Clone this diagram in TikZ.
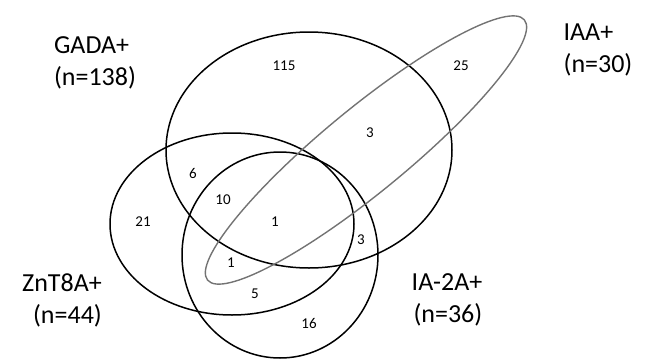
\documentclass[tikz,border=0pt]{standalone}
\usepackage{fontspec}
\setmainfont{Carlito}
\tikzset{
  ring/.style={draw=black, line width=1.5pt},
  iaaring/.style={draw=black!55, line width=1.4pt},
  setlabel/.style={font=\fontsize{26}{32}\selectfont, align=center},
  count/.style={font=\fontsize{15}{18}\selectfont}
}
\begin{document}
\begin{tikzpicture}[x=1pt,y=-1pt]
                \useasboundingbox (0,0) rectangle (649,362);
                \coordinate (gada) at (309,150);
                \coordinate (znt) at (232,224);
                \coordinate (ia2) at (280,255);
                \coordinate (iaa) at (366,150);
                \draw[ring] (gada) ellipse [x radius=143, y radius=118];
                \draw[ring] (znt) ellipse [x radius=122, y radius=91];
                \draw[ring] (ia2) ellipse [x radius=98, y radius=103];
                \draw[iaaring, rotate around={39.4:(iaa)}] (iaa) ellipse [x radius=205, y radius=42];
                \node[setlabel, align=left] (gadalbl) at (95,63) {GADA+\\(n=138)};
                \node[setlabel, align=left] (iaalbl) at (598,50) {IAA+\\(n=30)};
                \node[setlabel, align=right] (zntlbl) at (62,300) {ZnT8A+\\(n=44)};
                \node[setlabel, align=right] (ia2lbl) at (447,300) {IA-2A+\\(n=36)};
                \node[count] (n115) at (284,66) {115};
                \node[count] (n25) at (461,66) {25};
                \node[count] (n3a) at (370,133) {3};
                \node[count] (n6) at (193,173) {6};
                \node[count] (n10) at (223,200) {10};
                \node[count] (n1a) at (275,222) {1};
                \node[count] (n21) at (143,222) {21};
                \node[count] (n1b) at (231,263) {1};
                \node[count] (n5) at (255,294) {5};
                \node[count] (n16) at (309,323) {16};
                \node[count] (n3b) at (361,240) {3};
            \end{tikzpicture}
\end{document}
